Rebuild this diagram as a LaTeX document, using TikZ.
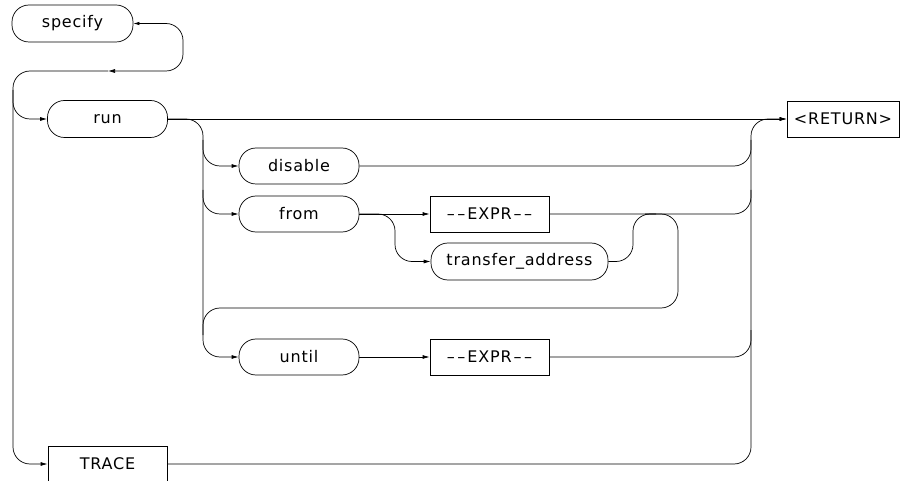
\documentclass[tikz,border=0pt]{standalone}
\usepackage{fontspec}
\setmainfont{DejaVu Sans}[LetterSpace=5]
\usetikzlibrary{arrows.meta}
\newcommand{\exprtxt}{–\kern2.5pt–\kern2pt EXPR\kern2pt–\kern2.5pt–}
\begin{document}
\begin{tikzpicture}[x=1pt,y=-1pt,line width=0.7pt,
  lbl/.style={font=\fontsize{16}{19}\selectfont},
  term/.style={draw,lbl,rounded corners=17pt,minimum width=120pt,minimum height=36pt,inner sep=0pt},
  ntbox/.style={draw,lbl,rounded corners=0pt,minimum width=119pt,minimum height=36pt,inner sep=0pt},
  conn/.style={rounded corners=17pt},
  tip/.style={-{Latex[length=7pt,width=4pt]}},
  bothtip/.style={{Latex[length=6pt,width=3.5pt]}-{Latex[length=7pt,width=4pt]}}
]
\useasboundingbox (0,0) rectangle (900,481);
% nodes
\node[term,minimum width=121pt,minimum height=37pt] (specify) at (72.5,23.5) {specify};
\node[term,minimum height=37pt] (run) at (107.5,119) {run};
\node[term] (disable) at (299,166) {disable};
\node[term] (from) at (299,214) {from};
\node[ntbox] (expr1) at (489.5,214) {\exprtxt};
\node[term,minimum width=177pt,minimum height=37pt] (xfer) at (519.5,261.5) {transfer\_address};
\node[term] (until) at (299,357) {until};
\node[ntbox] (expr2) at (489.5,357) {\exprtxt};
\node[ntbox,minimum width=112pt] (ret) at (843,119) {<RETURN>};
\node[ntbox] (trace) at (107.5,464) {TRACE};
% helper coordinates
\coordinate (c1) at (183,23.5);
\coordinate (c2) at (183,71);
\coordinate (mid) at (108,71);
\coordinate (c3) at (13,71);
\coordinate (c4) at (13,119);
\coordinate (t0) at (13,90);
\coordinate (t1) at (13,464);
\coordinate (b0) at (203,119);
\coordinate (b1) at (203,357);
\coordinate (d0) at (203,140);
\coordinate (d1) at (203,166);
\coordinate (f0) at (203,190);
\coordinate (f1) at (203,214);
\coordinate (x0) at (395,214);
\coordinate (x1) at (395,261.5);
\coordinate (a0) at (633,261.5);
\coordinate (a1) at (633,214);
\coordinate (a2) at (656,214);
\coordinate (l0) at (645,214);
\coordinate (l1) at (678,214);
\coordinate (l2) at (678,308);
\coordinate (l3) at (203,308);
\coordinate (l4) at (203,335);
\coordinate (r0) at (751,166);
\coordinate (r1) at (751,140);
\coordinate (r2) at (751,214);
\coordinate (r3) at (751,190);
\coordinate (r4) at (751,357);
\coordinate (r5) at (751,330);
\coordinate (r6) at (751,464);
\coordinate (r7) at (751,119);
% connectors
\draw[conn,bothtip] (specify.east) -- (c1) -- (c2) -- (mid);
\draw[conn,tip] (mid) -- (c3) -- (c4) -- (run.west);
\draw[conn,tip] (t0) -- (t1) -- (trace.west);
\draw[tip] (run.east) -- (ret.west);
\draw[conn,tip] (run.east) -- (b0) -- (b1) -- (until.west);
\draw[conn,tip] (d0) -- (d1) -- (disable.west);
\draw[conn,tip] (f0) -- (f1) -- (from.west);
\draw[tip] (from.east) -- (expr1.west);
\draw[conn,tip] (from.east) -- (x0) -- (x1) -- (xfer.west);
\draw[conn] (xfer.east) -- (a0) -- (a1) -- (a2);
\draw[conn] (l0) -- (l1) -- (l2) -- (l3) -- (l4);
\draw[tip] (until.east) -- (expr2.west);
\draw[conn] (disable.east) -- (r0) -- (r1);
\draw[conn] (expr1.east) -- (r2) -- (r3);
\draw[conn] (expr2.east) -- (r4) -- (r5);
\draw[conn,tip] (trace.east) -- (r6) -- (r7) -- (ret.west);
\end{tikzpicture}
\end{document}
